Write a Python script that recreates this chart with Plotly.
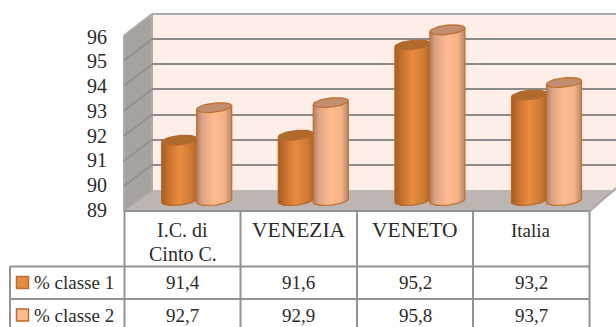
import numpy as np
import plotly.graph_objects as go

# Chart data
categories = ["I.C. di<br>Cinto C.", "VENEZIA", "VENETO", "Italia"]
series_names = ["% classe 1", "% classe 2"]
classe_1 = [91.4, 91.6, 95.2, 93.2]
classe_2 = [92.7, 92.9, 95.8, 93.7]
y_ticks = [89, 90, 91, 92, 93, 94, 95, 96]

W, H = 616, 327
FONT = "Liberation Serif"
TEXT = "#2b2b2b"
GRID = "#8C8C8C"
TABLE = "#939393"

# Box geometry in pixels
BACK_L, BACK_R, BACK_TOP, BACK_BOT = 152, 616, 14, 190
FRONT_L, FRONT_R, FRONT_TOP, FRONT_BOT = 124, 590, 35.5, 211
GROUP0, GROUP_STEP = 196.7, 116.6
BAR_Y0, UNIT = 200.5, 25.1
HALF = 17.5 / GROUP_STEP
RY, TILT = 4.6 / UNIT, 1.8 / UNIT


def px(x):
    return x / W


def py(y):
    return 1 - y / H


def poly(points, fill, line=None, width=0):
    path = "M" + " L".join(f"{px(x):.5f},{py(y):.5f}" for x, y in points) + " Z"
    return dict(type="path", xref="paper", yref="paper", path=path, fillcolor=fill,
                line=dict(color=line or fill, width=width), layer="below")


def seg(x0, y0, x1, y1, color=TABLE, width=2):
    return dict(type="line", xref="paper", yref="paper", x0=px(x0), y0=py(y0),
                x1=px(x1), y1=py(y1), line=dict(color=color, width=width), layer="below")


shapes = [
    # back wall, side wall, floor
    poly([(BACK_L, BACK_TOP), (BACK_R, BACK_TOP), (BACK_R, BACK_BOT), (BACK_L, BACK_BOT)], "#FDEFE8"),
    poly([(FRONT_L, FRONT_TOP), (BACK_L, BACK_TOP), (BACK_L, BACK_BOT), (FRONT_L, FRONT_BOT)], "#A8A29E"),
    poly([(BACK_L, BACK_BOT), (BACK_R, BACK_BOT), (FRONT_R, FRONT_BOT), (FRONT_L, FRONT_BOT)], "#BDB5B1"),
    seg(BACK_L, BACK_TOP, BACK_R, BACK_TOP, "#ABABAB"),
    seg(FRONT_L, FRONT_TOP, BACK_L, BACK_TOP, "#ABABAB"),
    seg(FRONT_L, FRONT_TOP, FRONT_L, FRONT_BOT, "#ABABAB"),
    seg(BACK_L, BACK_TOP, BACK_L, BACK_BOT, "#ABABAB"),
    seg(BACK_L, BACK_BOT, FRONT_L, FRONT_BOT, "#ABABAB"),
    seg(FRONT_R, FRONT_BOT, BACK_R, BACK_BOT - 2, "#ABABAB"),
]

# Grid lines continuing across the side wall
wall_step = (FRONT_BOT - FRONT_TOP) / (len(y_ticks) - 1)
for k in range(1, len(y_ticks) - 1):
    shapes.append(seg(FRONT_L, FRONT_BOT - k * wall_step, BACK_L,
                      BACK_BOT - k * (BACK_BOT - BACK_TOP) / (len(y_ticks) - 1), "#8E8E8E", 1.5))

# Data table rules
ROW_A, ROW_B = 266.5, 299
COLS = [124.5, 240.5, 357, 473, 589.5]
shapes.append(seg(COLS[0], FRONT_BOT, COLS[-1], FRONT_BOT))
for c in COLS:
    shapes.append(seg(c, FRONT_BOT, c, H))
for r in (ROW_A, ROW_B):
    shapes.append(seg(10, r, COLS[-1], r))
shapes.append(seg(10, ROW_A, 10, H))

# Legend keys inside the table
key_colors = ["#E58B3F", "#FDBB90"]
for row_y, kc in zip((282.5, 315), key_colors):
    shapes.append(dict(type="rect", xref="paper", yref="paper", x0=px(16.5), x1=px(28.5),
                       y0=py(row_y - 6), y1=py(row_y + 6), fillcolor=kc,
                       line=dict(color="#BC6C2C", width=1.5), layer="above"))

fig = go.Figure()

# Back wall subplot: only carries the horizontal grid
fig.add_trace(go.Scatter(x=[0], y=[y_ticks[0]], xaxis="x", yaxis="y", mode="markers",
                         marker=dict(opacity=0), showlegend=False, hoverinfo="skip"))

# Bars on the value axis, positioned at each group
n = len(categories)
styles = [
    dict(offset=-0.15, scale=[[0, "#A45C22"], [0.18, "#C4702E"], [0.5, "#E98C3F"],
                              [0.82, "#CF7A35"], [1, "#B0662A"]], top="#B06A2C", edge="#B5682B"),
    dict(offset=0.15, scale=[[0, "#AD8067"], [0.15, "#DDA283"], [0.5, "#FFBC90"],
                             [0.8, "#F6B186"], [1, "#B4876C"]], top="#C38E70", edge="#BF712F"),
]
for name, values, st in zip(series_names, (classe_1, classe_2), styles):
    xs = [i + st["offset"] for i in range(n)]
    heights = [v - y_ticks[0] for v in values]
    fig.add_trace(go.Bar(x=xs, y=heights, base=y_ticks[0], width=0.24, name=name,
                         marker=dict(color=st["scale"][2][1], line=dict(width=0)),
                         xaxis="x2", yaxis="y2", showlegend=False))

t_lower = np.linspace(np.pi, 2 * np.pi, 25)
t_full = np.linspace(0, 2 * np.pi, 49)
for values, st in zip((classe_1, classe_2), styles):
    for i, v in enumerate(values):
        cx = i + st["offset"]
        # cylinder side: straight edges closed by the lower half of the base ellipse
        bx = cx + HALF * np.cos(t_lower)
        by = y_ticks[0] + RY * np.sin(t_lower) + TILT * np.cos(t_lower)
        body_x = [cx - HALF, cx + HALF] + list(bx[::-1]) + [cx - HALF]
        body_y = [v - TILT, v + TILT] + list(by[::-1]) + [v - TILT]
        fig.add_trace(go.Scatter(
            x=body_x, y=body_y, xaxis="x2", yaxis="y2", mode="lines", fill="toself",
            fillgradient=dict(type="horizontal", colorscale=st["scale"]),
            line=dict(color=st["edge"], width=1.3), showlegend=False, hoverinfo="skip"))
        # cylinder cap
        fig.add_trace(go.Scatter(
            x=cx + HALF * np.cos(t_full),
            y=v + RY * np.sin(t_full) + TILT * np.cos(t_full),
            xaxis="x2", yaxis="y2", mode="lines", fill="toself", fillcolor=st["top"],
            line=dict(color=st["edge"], width=1.3), showlegend=False, hoverinfo="skip"))

# Axis that carries the printed value labels
fig.add_trace(go.Scatter(x=[0], y=[y_ticks[0]], xaxis="x2", yaxis="y3", mode="markers",
                         marker=dict(opacity=0), showlegend=False, hoverinfo="skip"))

# Table text
annotations = []


def label(x, y, text, anchor="center", size=19):
    annotations.append(dict(xref="paper", yref="paper", x=px(x), y=py(y), text=text,
                            showarrow=False, xanchor=anchor, yanchor="middle",
                            font=dict(family=FONT, size=size, color=TEXT)))


centers = [(COLS[i] + COLS[i + 1]) / 2 for i in range(n)]
for c, cat in zip(centers, categories):
    if "<br>" in cat:
        for line_y, part in zip((230, 254), cat.split("<br>")):
            label(c, line_y, part, size=20)
    else:
        # capitals run wider in this table than the mixed-case labels
        label(c, 230, cat, size=21.5 if cat.isupper() else 19)
for row_y, values, name in zip((282.5, 315), (classe_1, classe_2), series_names):
    label(32, row_y, name, anchor="left")
    for c, v in zip(centers, values):
        label(c, row_y, f"{v:.1f}".replace(".", ","))

hidden = dict(visible=False, fixedrange=True, automargin=False)
fig.update_layout(
    template="none",
    width=W, height=H, margin=dict(l=0, r=0, t=0, b=0, pad=0), autosize=False,
    paper_bgcolor="white", plot_bgcolor="rgba(0,0,0,0)", showlegend=False,
    barmode="overlay", shapes=shapes, annotations=annotations,
    font=dict(family=FONT, color=TEXT),
    # back wall grid
    xaxis=dict(domain=[px(BACK_L), 1], visible=False, range=[0, 1], automargin=False),
    yaxis=dict(domain=[py(BACK_BOT), py(BACK_TOP)], range=[y_ticks[0], y_ticks[-1]],
               tickvals=y_ticks, showticklabels=False, showgrid=True, gridcolor=GRID,
               gridwidth=2.4, zeroline=False, showline=False, ticks="", automargin=False),
    # bars: value 89 sits on the middle of the floor
    xaxis2=dict(domain=[0, 1], range=[-GROUP0 / GROUP_STEP, (W - GROUP0) / GROUP_STEP],
                anchor="y2", **hidden),
    yaxis2=dict(domain=[0, 1],
                range=[y_ticks[0] - (H - BAR_Y0) / UNIT, y_ticks[0] + BAR_Y0 / UNIT],
                anchor="x2", **hidden),
    # printed value labels along the front of the side wall
    yaxis3=dict(domain=[py(FRONT_BOT - 1), py(FRONT_TOP + 1)], range=[y_ticks[0], y_ticks[-1]],
                tickvals=y_ticks, anchor="free", position=px(107), side="left", automargin=False,
                showgrid=False, zeroline=False, showline=False, ticks="",
                tickfont=dict(family=FONT, size=20, color=TEXT)),
)

fig.write_html("out.html")
